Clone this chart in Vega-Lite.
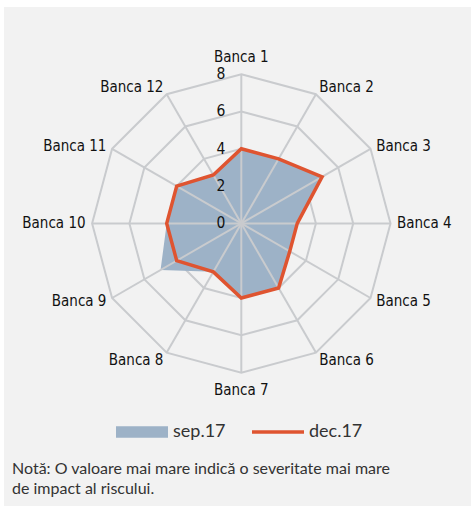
{
  "$schema": "https://vega.github.io/schema/vega-lite/v6.json",
  "width": 467,
  "height": 499,
  "autosize": "none",
  "padding": {"left": 4, "top": 7, "right": 4, "bottom": 0},
  "background": "white",
  "config": {
    "view": {"stroke": null, "fill": "#f2f2f2"},
    "text": {"font": "DejaVu Sans Condensed, Roboto, sans-serif", "fontSize": 15, "color": "#111111"}
  },
  "title": {
    "text": ["Notă: O valoare mai mare indică o severitate mai mare", "de impact al riscului."],
    "orient": "bottom",
    "anchor": "start",
    "frame": "group",
    "align": "left",
    "offset": -45,
    "dx": 8,
    "font": "Lato",
    "fontSize": 16,
    "fontWeight": "normal",
    "color": "#333333",
    "lineHeight": 20
  },
  "datasets": {
    "banks": [
      {"bank": "Banca 1", "idx": 0}, {"bank": "Banca 2", "idx": 1}, {"bank": "Banca 3", "idx": 2},
      {"bank": "Banca 4", "idx": 3}, {"bank": "Banca 5", "idx": 4}, {"bank": "Banca 6", "idx": 5},
      {"bank": "Banca 7", "idx": 6}, {"bank": "Banca 8", "idx": 7}, {"bank": "Banca 9", "idx": 8},
      {"bank": "Banca 10", "idx": 9}, {"bank": "Banca 11", "idx": 10}, {"bank": "Banca 12", "idx": 11}
    ],
    "rings": [
      {"ring": 2, "idx": [0,1,2,3,4,5,6,7,8,9,10,11]},
      {"ring": 4, "idx": [0,1,2,3,4,5,6,7,8,9,10,11]},
      {"ring": 6, "idx": [0,1,2,3,4,5,6,7,8,9,10,11]},
      {"ring": 8, "idx": [0,1,2,3,4,5,6,7,8,9,10,11]}
    ],
    "ticks": [{"v": 0}, {"v": 2}, {"v": 4}, {"v": 6}, {"v": 8}],
    "scores": [
      {"bank": "Banca 1", "idx": 0, "series": "sep.17", "value": 4},
      {"bank": "Banca 2", "idx": 1, "series": "sep.17", "value": 4},
      {"bank": "Banca 3", "idx": 2, "series": "sep.17", "value": 5},
      {"bank": "Banca 4", "idx": 3, "series": "sep.17", "value": 3},
      {"bank": "Banca 5", "idx": 4, "series": "sep.17", "value": 3},
      {"bank": "Banca 6", "idx": 5, "series": "sep.17", "value": 4},
      {"bank": "Banca 7", "idx": 6, "series": "sep.17", "value": 4},
      {"bank": "Banca 8", "idx": 7, "series": "sep.17", "value": 3},
      {"bank": "Banca 9", "idx": 8, "series": "sep.17", "value": 5},
      {"bank": "Banca 10", "idx": 9, "series": "sep.17", "value": 4},
      {"bank": "Banca 11", "idx": 10, "series": "sep.17", "value": 4},
      {"bank": "Banca 12", "idx": 11, "series": "sep.17", "value": 3},
      {"bank": "Banca 1", "idx": 0, "series": "dec.17", "value": 4},
      {"bank": "Banca 2", "idx": 1, "series": "dec.17", "value": 4},
      {"bank": "Banca 3", "idx": 2, "series": "dec.17", "value": 5},
      {"bank": "Banca 4", "idx": 3, "series": "dec.17", "value": 3},
      {"bank": "Banca 5", "idx": 4, "series": "dec.17", "value": 3},
      {"bank": "Banca 6", "idx": 5, "series": "dec.17", "value": 4},
      {"bank": "Banca 7", "idx": 6, "series": "dec.17", "value": 4},
      {"bank": "Banca 8", "idx": 7, "series": "dec.17", "value": 3},
      {"bank": "Banca 9", "idx": 8, "series": "dec.17", "value": 4},
      {"bank": "Banca 10", "idx": 9, "series": "dec.17", "value": 4},
      {"bank": "Banca 11", "idx": 10, "series": "dec.17", "value": 4},
      {"bank": "Banca 12", "idx": 11, "series": "dec.17", "value": 3}
    ]
  },
  "encoding": {
    "x": {"field": "px", "type": "quantitative", "scale": {"domain": [-12.724, 12.316], "nice": false, "zero": false}, "axis": null},
    "y": {"field": "py", "type": "quantitative", "scale": {"domain": [-15.153, 11.603], "nice": false, "zero": false}, "axis": null}
  },
  "layer": [
    {
      "data": {"name": "rings"},
      "transform": [
        {"flatten": ["idx"]},
        {"calculate": "datum.ring * sin(datum.idx * PI / 6)", "as": "px"},
        {"calculate": "datum.ring * cos(datum.idx * PI / 6)", "as": "py"}
      ],
      "mark": {"type": "line", "interpolate": "linear-closed", "color": "#c9cbce", "strokeWidth": 2},
      "encoding": {
        "detail": {"field": "ring", "type": "nominal"},
        "order": {"field": "idx", "type": "quantitative"}
      }
    },
    {
      "data": {"name": "scores"},
      "transform": [
        {"filter": "datum.series === 'sep.17'"},
        {"calculate": "datum.value * sin(datum.idx * PI / 6)", "as": "px"},
        {"calculate": "datum.value * cos(datum.idx * PI / 6)", "as": "py"}
      ],
      "mark": {"type": "line", "interpolate": "linear-closed", "filled": true, "strokeWidth": 0, "fillOpacity": 1},
      "encoding": {
        "order": {"field": "idx", "type": "quantitative"},
        "color": {
          "field": "series", "type": "nominal",
          "scale": {"domain": ["sep.17", "dec.17"], "range": ["#9db2c7", "#df5430"]},
          "legend": {
            "title": null, "orient": "none", "legendX": 112, "legendY": 399, "direction": "horizontal",
            "padding": 0, "symbolSize": 2704, "labelFont": "Lato", "labelFontSize": 18, "labelColor": "#333333",
            "labelOffset": 5, "columnPadding": 26, "symbolStrokeWidth": 0, "labelBaseline": "middle",
            "encode": {
              "symbols": {
                "update": {
                  "shape": {"signal": "datum.value === 'sep.17' ? 'M-1,-0.22H1V0.22H-1Z' : 'M-1,-0.07H1V0.07H-1Z'"},
                  "fill": {"signal": "datum.value === 'sep.17' ? '#9db2c7' : '#df5430'"},
                  "strokeWidth": {"value": 0}
                }
              }
            }
          }
        }
      }
    },
    {
      "data": {"name": "banks"},
      "transform": [
        {"calculate": "8 * sin(datum.idx * PI / 6)", "as": "px"},
        {"calculate": "8 * cos(datum.idx * PI / 6)", "as": "py"}
      ],
      "mark": {"type": "rule", "color": "#c9cbce", "strokeWidth": 2},
      "encoding": {
        "x": {"datum": 0},
        "y": {"datum": 0},
        "x2": {"field": "px"},
        "y2": {"field": "py"}
      }
    },
    {
      "data": {"name": "scores"},
      "transform": [
        {"filter": "datum.series === 'dec.17'"},
        {"calculate": "datum.value * sin(datum.idx * PI / 6)", "as": "px"},
        {"calculate": "datum.value * cos(datum.idx * PI / 6)", "as": "py"}
      ],
      "mark": {"type": "line", "interpolate": "linear-closed", "strokeWidth": 3.5},
      "encoding": {
        "order": {"field": "idx", "type": "quantitative"},
        "color": {
          "field": "series", "type": "nominal",
          "scale": {"domain": ["sep.17", "dec.17"], "range": ["#9db2c7", "#df5430"]}
        }
      }
    },
    {
      "data": {"name": "ticks"},
      "transform": [
        {"calculate": "0", "as": "px"},
        {"calculate": "datum.v", "as": "py"}
      ],
      "mark": {"type": "text", "align": "right", "baseline": "middle", "dx": -16, "fontSize": 15.5},
      "encoding": {"text": {"field": "v", "type": "quantitative"}}
    },
    {
      "data": {"name": "banks"},
      "transform": [
        {"calculate": "8.35 * sin(datum.idx * PI / 6)", "as": "px"},
        {"calculate": "8.35 * cos(datum.idx * PI / 6)", "as": "py"}
      ],
      "mark": {
        "type": "text",
        "align": {"expr": "datum.idx === 0 || datum.idx === 6 ? 'center' : (datum.idx < 6 ? 'left' : 'right')"},
        "baseline": {"expr": "datum.idx === 0 ? 'bottom' : (datum.idx === 6 ? 'top' : 'middle')"},
        "dy": {"expr": "datum.idx === 0 ? -3 : (datum.idx === 6 ? 4 : (datum.idx === 1 || datum.idx === 11 ? -2 : (datum.idx === 5 || datum.idx === 7 ? 2 : 0)))"}
      },
      "encoding": {"text": {"field": "bank", "type": "nominal"}}
    }
  ]
}
